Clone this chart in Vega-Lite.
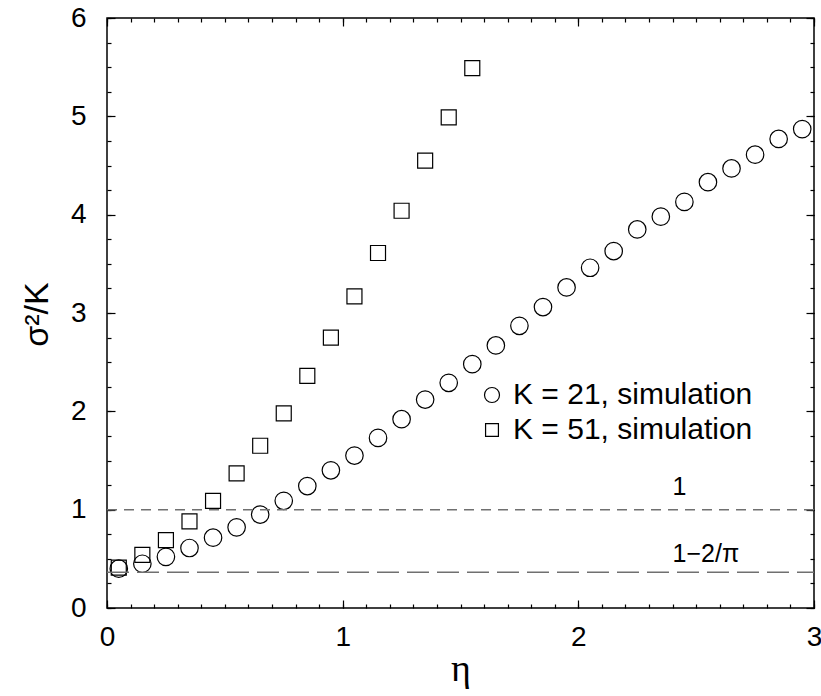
{
  "$schema": "https://vega.github.io/schema/vega-lite/v6.json",
  "autosize": {"type": "none"},
  "padding": {"left": 107, "top": 18, "right": 7, "bottom": 88},
  "width": 707,
  "height": 590,
  "background": "white",
  "config": {
    "view": {"stroke": "black", "strokeWidth": 1.5},
    "font": "Liberation Sans",
    "axis": {"grid": false, "domain": false, "ticks": true, "tickColor": "black", "tickWidth": 1.2, "labelColor": "black", "titleColor": "black"}
  },
  "resolve": {"axis": {"x": "independent", "y": "independent"}},
  "layer": [
    {
      "data": {"values": [
        {"eta": 0.05, "v": 0.40, "series": "K = 21, simulation"},
        {"eta": 0.15, "v": 0.45, "series": "K = 21, simulation"},
        {"eta": 0.25, "v": 0.52, "series": "K = 21, simulation"},
        {"eta": 0.35, "v": 0.61, "series": "K = 21, simulation"},
        {"eta": 0.45, "v": 0.715, "series": "K = 21, simulation"},
        {"eta": 0.55, "v": 0.82, "series": "K = 21, simulation"},
        {"eta": 0.65, "v": 0.95, "series": "K = 21, simulation"},
        {"eta": 0.75, "v": 1.09, "series": "K = 21, simulation"},
        {"eta": 0.85, "v": 1.24, "series": "K = 21, simulation"},
        {"eta": 0.95, "v": 1.40, "series": "K = 21, simulation"},
        {"eta": 1.05, "v": 1.55, "series": "K = 21, simulation"},
        {"eta": 1.15, "v": 1.73, "series": "K = 21, simulation"},
        {"eta": 1.25, "v": 1.92, "series": "K = 21, simulation"},
        {"eta": 1.35, "v": 2.12, "series": "K = 21, simulation"},
        {"eta": 1.45, "v": 2.29, "series": "K = 21, simulation"},
        {"eta": 1.55, "v": 2.48, "series": "K = 21, simulation"},
        {"eta": 1.65, "v": 2.67, "series": "K = 21, simulation"},
        {"eta": 1.75, "v": 2.87, "series": "K = 21, simulation"},
        {"eta": 1.85, "v": 3.06, "series": "K = 21, simulation"},
        {"eta": 1.95, "v": 3.26, "series": "K = 21, simulation"},
        {"eta": 2.05, "v": 3.46, "series": "K = 21, simulation"},
        {"eta": 2.15, "v": 3.63, "series": "K = 21, simulation"},
        {"eta": 2.25, "v": 3.85, "series": "K = 21, simulation"},
        {"eta": 2.35, "v": 3.98, "series": "K = 21, simulation"},
        {"eta": 2.45, "v": 4.13, "series": "K = 21, simulation"},
        {"eta": 2.55, "v": 4.33, "series": "K = 21, simulation"},
        {"eta": 2.65, "v": 4.47, "series": "K = 21, simulation"},
        {"eta": 2.75, "v": 4.61, "series": "K = 21, simulation"},
        {"eta": 2.85, "v": 4.77, "series": "K = 21, simulation"},
        {"eta": 2.95, "v": 4.87, "series": "K = 21, simulation"},
        {"eta": 0.05, "v": 0.41, "series": "K = 51, simulation"},
        {"eta": 0.15, "v": 0.54, "series": "K = 51, simulation"},
        {"eta": 0.25, "v": 0.69, "series": "K = 51, simulation"},
        {"eta": 0.35, "v": 0.88, "series": "K = 51, simulation"},
        {"eta": 0.45, "v": 1.09, "series": "K = 51, simulation"},
        {"eta": 0.55, "v": 1.37, "series": "K = 51, simulation"},
        {"eta": 0.65, "v": 1.65, "series": "K = 51, simulation"},
        {"eta": 0.75, "v": 1.98, "series": "K = 51, simulation"},
        {"eta": 0.85, "v": 2.36, "series": "K = 51, simulation"},
        {"eta": 0.95, "v": 2.75, "series": "K = 51, simulation"},
        {"eta": 1.05, "v": 3.17, "series": "K = 51, simulation"},
        {"eta": 1.15, "v": 3.61, "series": "K = 51, simulation"},
        {"eta": 1.25, "v": 4.04, "series": "K = 51, simulation"},
        {"eta": 1.35, "v": 4.55, "series": "K = 51, simulation"},
        {"eta": 1.45, "v": 4.99, "series": "K = 51, simulation"},
        {"eta": 1.55, "v": 5.49, "series": "K = 51, simulation"}
      ]},
      "mark": {"type": "point", "filled": false, "color": "black", "opacity": 1, "strokeWidth": 1.2, "size": 306},
      "encoding": {
        "x": {"field": "eta", "type": "quantitative", "scale": {"domain": [0, 3], "nice": false, "zero": false},
          "axis": {"orient": "bottom", "values": [0, 1, 2, 3], "offset": -8, "tickSize": 8, "labelPadding": 15, "labelFontSize": 28, "labelFlush": false, "title": "η", "titleFont": "Liberation Serif", "titleFontSize": 38, "titleFontWeight": "normal", "titleBaseline": "alphabetic", "titleY": 80, "titleX": 353.5, "titleAlign": "center"}},
        "y": {"field": "v", "type": "quantitative", "scale": {"domain": [0, 6], "nice": false, "zero": false},
          "axis": {"orient": "left", "values": [0, 1, 2, 3, 4, 5, 6], "offset": -8, "tickSize": 8, "labelPadding": 21, "labelFontSize": 28, "labelFlush": false, "title": "σ²/K", "titleFontSize": 34, "titleFontWeight": "normal", "titleAngle": -90, "titleBaseline": "alphabetic", "titleAlign": "center", "titleX": -68, "titleY": 296}},
        "shape": {"field": "series", "type": "nominal",
          "scale": {"domain": ["K = 21, simulation", "K = 51, simulation"], "range": ["circle", "M-0.857,-0.857H0.857V0.857H-0.857Z"]},
          "legend": {"orient": "none", "legendX": 370, "legendY": 362, "title": null, "padding": 0, "labelFontSize": 30, "labelLimit": 0, "labelFont": "Liberation Sans", "labelColor": "black", "symbolSize": 225, "labelOffset": 6, "rowPadding": 5, "symbolStrokeWidth": 1.2, "symbolStrokeColor": "black", "symbolFillColor": "transparent"}}
      }
    },
    {
      "data": {"values": [{"a": 0, "b": 3, "v": 1}]},
      "mark": {"type": "rule", "color": "#707070", "strokeWidth": 1.5, "strokeDash": [10, 7]},
      "encoding": {
        "x": {"field": "a", "type": "quantitative", "scale": {"domain": [0, 3], "nice": false, "zero": false},
          "axis": {"orient": "bottom", "values": [0, 0.1, 0.2, 0.3, 0.4, 0.5, 0.6, 0.7, 0.8, 0.9, 1, 1.1, 1.2, 1.3, 1.4, 1.5, 1.6, 1.7, 1.8, 1.9, 2, 2.1, 2.2, 2.3, 2.4, 2.5, 2.6, 2.7, 2.8, 2.9, 3], "offset": -4, "tickSize": 4, "labels": false, "title": null}},
        "x2": {"field": "b"},
        "y": {"field": "v", "type": "quantitative", "scale": {"domain": [0, 6], "nice": false, "zero": false},
          "axis": {"orient": "left", "values": [0, 0.25, 0.5, 0.75, 1, 1.25, 1.5, 1.75, 2, 2.25, 2.5, 2.75, 3, 3.25, 3.5, 3.75, 4, 4.25, 4.5, 4.75, 5, 5.25, 5.5, 5.75, 6], "offset": -4, "tickSize": 4, "labels": false, "title": null}}
      }
    },
    {
      "data": {"values": [{"a": 0, "b": 3, "v": 0.3634}]},
      "mark": {"type": "rule", "color": "#707070", "strokeWidth": 1.5, "strokeDash": [22, 8]},
      "encoding": {
        "x": {"field": "a", "type": "quantitative", "scale": {"domain": [0, 3], "nice": false, "zero": false},
          "axis": {"orient": "top", "values": [0, 1, 2, 3], "offset": -8, "tickSize": 8, "labels": false, "title": null}},
        "x2": {"field": "b"},
        "y": {"field": "v", "type": "quantitative", "scale": {"domain": [0, 6], "nice": false, "zero": false},
          "axis": {"orient": "right", "values": [0, 1, 2, 3, 4, 5, 6], "offset": -8, "tickSize": 8, "labels": false, "title": null}}
      }
    },
    {
      "data": {"values": [{"a": 2.4, "v": 1.15, "label": "1"}, {"a": 2.4, "v": 0.47, "label": "1−2/π"}]},
      "mark": {"type": "text", "align": "left", "baseline": "alphabetic", "fontSize": 25, "color": "black"},
      "encoding": {
        "x": {"field": "a", "type": "quantitative", "scale": {"domain": [0, 3], "nice": false, "zero": false},
          "axis": {"orient": "top", "values": [0, 0.1, 0.2, 0.3, 0.4, 0.5, 0.6, 0.7, 0.8, 0.9, 1, 1.1, 1.2, 1.3, 1.4, 1.5, 1.6, 1.7, 1.8, 1.9, 2, 2.1, 2.2, 2.3, 2.4, 2.5, 2.6, 2.7, 2.8, 2.9, 3], "offset": -4, "tickSize": 4, "labels": false, "title": null}},
        "y": {"field": "v", "type": "quantitative", "scale": {"domain": [0, 6], "nice": false, "zero": false},
          "axis": {"orient": "right", "values": [0, 0.25, 0.5, 0.75, 1, 1.25, 1.5, 1.75, 2, 2.25, 2.5, 2.75, 3, 3.25, 3.5, 3.75, 4, 4.25, 4.5, 4.75, 5, 5.25, 5.5, 5.75, 6], "offset": -4, "tickSize": 4, "labels": false, "title": null}},
        "text": {"field": "label", "type": "nominal"}
      }
    }
  ]
}
